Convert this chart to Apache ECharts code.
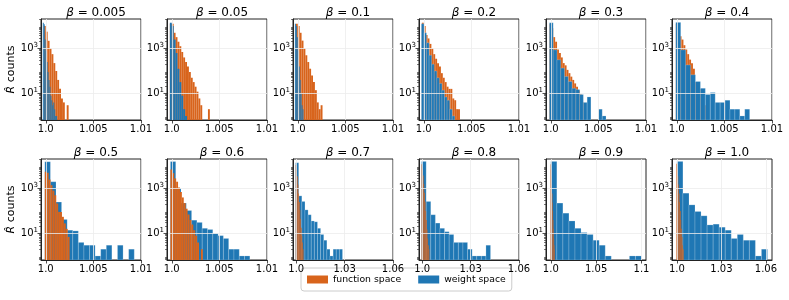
<!DOCTYPE html>
<html><head><meta charset="utf-8">
<script src="https://cdn.jsdelivr.net/npm/echarts@6/dist/echarts.min.js"></script>
<style>html,body{margin:0;padding:0;background:#fff}#c{width:789px;height:300px}</style>
</head><body><div id="c"></div>
<script>
// ---------------- data ----------------
const betaLabels = ['0.005','0.05','0.1','0.2','0.3','0.4','0.5','0.6','0.7','0.8','0.9','1.0'];
const xMinVals = [0.9995,0.9995,0.9995,0.9995,0.9995,0.9995,0.9995,0.9995,0.998,0.998,0.9947,0.9967];
const xMaxVals = [1.01,1.01,1.01,1.01,1.01,1.01,1.01,1.01,1.06,1.06,1.105,1.0641];
const xTickVals = [
  [1,1.005,1.01],[1,1.005,1.01],[1,1.005,1.01],[1,1.005,1.01],[1,1.005,1.01],[1,1.005,1.01],
  [1,1.005,1.01],[1,1.005,1.01],[1,1.03,1.06],[1,1.03,1.06],[1,1.05,1.1],[1,1.03,1.06]
];
const yTickVals = [10, 1000];
const countMin = 0.66, countMax = 20500;

// weight space histograms: first bin start, bin width, counts
const wsStart = [0.99969,0.9998,0.9997,0.99975,0.99986,0.9999,0.9999,0.99986,0.9996,0.9996,1.0,1.0];
const wsWidth = [0.0001,0.0002,0.0001,0.00027,0.000396,0.000517,0.000587,0.000556,0.00194,0.00285,0.00667,0.00407];
const wsCounts = [
  [14000,12000,2500,800,250,90,40,20,8,5,3,4,2,1,1],
  [14000,10000,2500,630,125,32,8,2,1],
  [12600,10000,3200,800,160,40,10,3,2],
  [12600,5000,1800,500,200,100,50,28,14,7,5,2,1],
  [14000,870,315,134,57,34,17,15,9,4,7,0,0,2,1],
  [14500,870,186,68,34,17,9,11,4,4,5,2,2,1,2],
  [15500,2000,250,42,14,13,4,3,3,1,2,3,0,3,0,2],
  [15800,1000,225,105,39,31,17,15,10,8,6,2,2,1,1],
  [14000,470,265,112,68,36,33,17,9,5,2,1,2,2,2],
  [16000,265,68,29,17,12,9,4,4,4,2,1,1,1,3],
  [16000,225,80,36,17,11,9,5,3,1,0,0,0,1,1],
  [16000,620,187,95,61,24,26,19,14,6,9,5,5,1,2]
];
// function space histograms
const fsStart = [0.9998,0.9998,0.9998,0.9998,0.99986,0.9999,0.9999,0.99986,0.9997,0.9996,0.9997,0.9997];
const fsWidth = [0.0002,0.0002,0.0002,0.0002,0.0002,0.0002,0.0002,0.0002,0.0004,0.0004,0.0004,0.0004];
const fsCounts = [
  [10000,5600,2200,1000,560,224,100,40,16,6,4,0,3],
  [12600,12600,5000,3200,2000,1260,700,400,250,160,90,50,32,20,12,6,3,0,0,0,2],
  [12600,10000,5000,2240,1000,500,250,126,63,32,14,4,2,3],
  [14000,10000,4000,2800,1600,1000,560,350,220,160,80,50,32,20,16,16,6,5,2,2],
  [12000,8000,3200,2000,900,630,400,224,178,112,80,56,40,28,20,14,9,4],
  [12600,8000,3500,2500,1400,900,560,320,220,126,32,20,16,10,6,3,2],
  [5600,5000,2500,1400,800,500,214,91,91,55,28,16,7],
  [7000,4800,2800,2000,1100,700,400,224,126,70,40,25,14,8,4,0,2],
  [11000,7000,3500,1500,600,250,110,45,18,8,4,2],
  [12000,7500,3800,1600,650,260,100,40,15,6,3,2],
  [12000,7000,3600,1500,600,240,100,40,16,6,3,2],
  [12500,7000,3500,1500,600,250,100,40,16,7,3,2]
];
const seriesNames = ['function space','weight space'];

// ---------------- layout / style ----------------
const FONT = 'DejaVu Sans';
const colLefts = [41,167,293,419,546,672];
const rowTops = [19,159];
const PW = 100, PH = 101;
const BLUE = '#1f77b4', ORANGE = '#d8641c';
const AX = '#222';
const yMin = Math.log10(countMin), yMax = Math.log10(countMax);

const minorVals = [];
for (let k = -1; k <= 4; k++) for (let m = 2; m <= 9; m++) {
  const v = Math.log10(m * Math.pow(10, k));
  if (v >= yMin && v <= yMax) minorVals.push(v);
}
const majorVals = yTickVals.map(v => Math.log10(v));

function histData(start, width, counts) {
  const out = [];
  counts.forEach((c, k) => {
    if (c > 0) out.push([start + k * width, start + (k + 1) * width, Math.log10(c)]);
  });
  return out;
}
function renderHist(color) {
  return function (params, api) {
    const p0 = api.coord([api.value(0), api.value(2)]);
    const p1 = api.coord([api.value(1), yMin]);
    const w = p1[0] - p0[0];
    const style = { fill: color };
    if (w >= 2.5) { style.stroke = 'rgba(255,255,255,0.3)'; style.lineWidth = 0.6; }
    return {
      type: 'rect',
      shape: { x: p0[0], y: p0[1], width: w, height: p1[1] - p0[1] },
      style: style
    };
  };
}
function xFmt(v) { return Math.abs(v - 1) < 1e-9 ? '1.0' : String(+v.toFixed(4)); }

const grids = [], xAxes = [], yAxes = [], series = [], titles = [];
for (let i = 0; i < 12; i++) {
  const row = Math.floor(i / 6), col = i % 6;
  const left = colLefts[col], top = rowTops[row];
  grids.push({ left: left, top: top, width: PW, height: PH, show: true, borderColor: AX, borderWidth: 1, backgroundColor: 'transparent' });
  titles.push({
    text: '{i|β} = ' + betaLabels[i],
    left: left + PW / 2, top: top - 17, textAlign: 'center',
    textStyle: { fontFamily: FONT, fontSize: 12, fontWeight: 'normal', color: '#000',
      rich: { i: { fontFamily: FONT, fontSize: 12, fontStyle: 'italic', color: '#000' } } }
  });
  xAxes.push({
    gridIndex: i, type: 'value', min: xMinVals[i], max: xMaxVals[i], z: 5,
    axisLine: { show: true, onZero: false, lineStyle: { color: AX, width: 1 } },
    axisTick: { show: true, customValues: xTickVals[i], length: 3.5, lineStyle: { color: AX, width: 0.8 } },
    axisLabel: { customValues: xTickVals[i], formatter: xFmt, fontFamily: FONT, fontSize: 10, color: '#000', margin: 4 },
    splitLine: { show: true, lineStyle: { color: '#ececec', width: 0.8 } }
  });
  yAxes.push({
    gridIndex: i, type: 'value', position: 'left', min: yMin, max: yMax, z: 5,
    axisLine: { show: true, onZero: false, lineStyle: { color: AX, width: 1 } },
    axisTick: { show: true, customValues: majorVals, length: 3.5, lineStyle: { color: AX, width: 0.8 } },
    axisLabel: { customValues: majorVals, margin: 3,
      formatter: v => '{b|10}{s|' + Math.round(v) + '}',
      rich: { b: { fontFamily: FONT, fontSize: 10, color: '#000', lineHeight: 13 },
              s: { fontFamily: FONT, fontSize: 7, color: '#000', lineHeight: 13, verticalAlign: 'top' } } },
    splitLine: { show: true, lineStyle: { color: '#ececec', width: 0.8 } },
    name: col === 0 ? '{i|R̂} counts' : '', nameLocation: 'middle', nameRotate: 90, nameGap: 24,
    nameTextStyle: { fontFamily: FONT, fontSize: 11, color: '#000',
      rich: { i: { fontFamily: FONT, fontSize: 11, fontStyle: 'italic', color: '#000' } } }
  });
  yAxes.push({
    gridIndex: i, type: 'value', position: 'left', min: yMin, max: yMax, z: 5,
    axisLine: { show: false },
    axisTick: { show: true, customValues: minorVals, length: 2, lineStyle: { color: AX, width: 0.6 } },
    axisLabel: { show: false }, splitLine: { show: false }
  });
  const ws = {
    name: seriesNames[1], type: 'custom', xAxisIndex: i, yAxisIndex: 2 * i,
    itemStyle: { color: BLUE }, renderItem: renderHist(BLUE),
    encode: { x: [0, 1], y: 2 }, data: histData(wsStart[i], wsWidth[i], wsCounts[i])
  };
  const fs = {
    name: seriesNames[0], type: 'custom', xAxisIndex: i, yAxisIndex: 2 * i,
    itemStyle: { color: ORANGE }, renderItem: renderHist(ORANGE),
    encode: { x: [0, 1], y: 2 }, data: histData(fsStart[i], fsWidth[i], fsCounts[i])
  };
  if (row === 0) { series.push(fs, ws); } else { series.push(ws, fs); }
}

const chart = echarts.init(document.getElementById('c'), null, { renderer: 'canvas' });
chart.setOption({
  animation: false,
  backgroundColor: '#fff',
  title: titles,
  grid: grids, xAxis: xAxes, yAxis: yAxes, series: series,
  legend: {
    data: seriesNames, left: 301, top: 268, icon: 'rect', itemWidth: 21, itemHeight: 8, itemGap: 17,
    padding: [7, 6], borderColor: '#ccc', borderWidth: 1, borderRadius: 3, selectedMode: false,
    textStyle: { fontFamily: FONT, fontSize: 9.3, color: '#000' }
  }
});
</script></body></html>
